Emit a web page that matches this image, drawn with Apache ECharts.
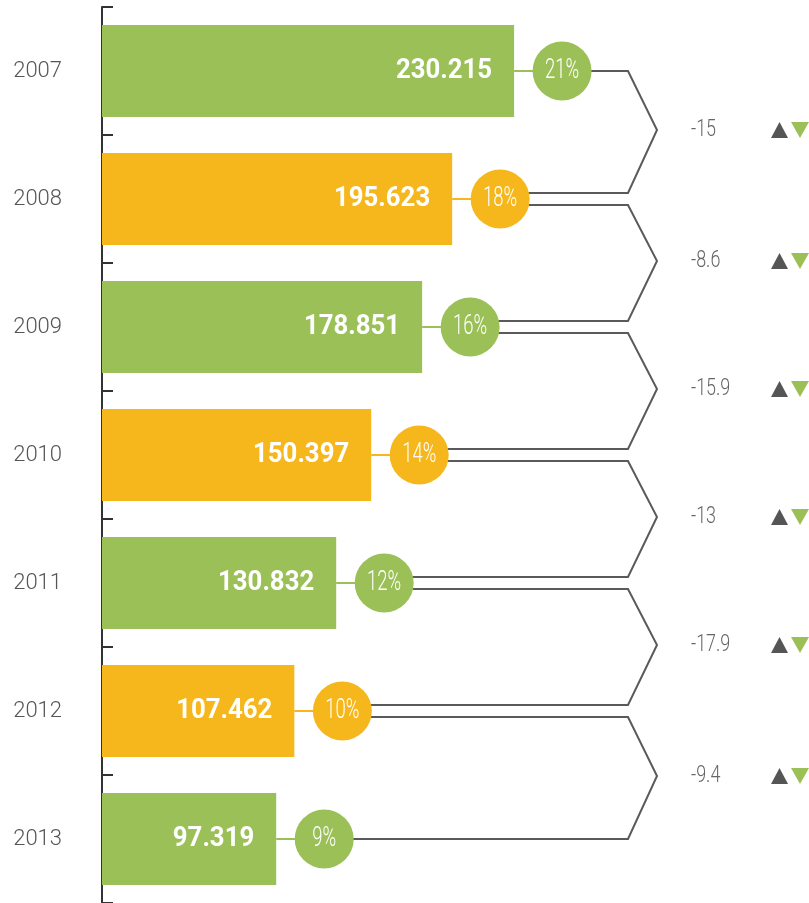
<!DOCTYPE html>
<html>
<head>
<meta charset="utf-8">
<script src="https://cdn.jsdelivr.net/npm/echarts@6/dist/echarts.min.js"></script>
<style>
  html, body { margin: 0; padding: 0; background: #fff; }
  #main { width: 809px; height: 903px; }
</style>
</head>
<body>
<div id="main"></div>
<script>
const years = ['2007', '2008', '2009', '2010', '2011', '2012', '2013']
const values = [230.215, 195.623, 178.851, 150.397, 130.832, 107.462, 97.319]
const shares = ['21%', '18%', '16%', '14%', '12%', '10%', '9%']
const changes = ['-15', '-8.6', '-15.9', '-13', '-17.9', '-9.4']
const colors = ['#9BC057', '#F6B71C']

const lineColor = '#5a5a5a'
const circleOffset = 48
const radius = 29.5
const gap = 6

const myChart = echarts.init(document.getElementById('main'))

// y of the bracket line leaving a row (below) or entering it (above)
function rowLineY(i, cy, below) {
  if (i === 0 || i === years.length - 1) return cy
  return below ? cy + gap : cy - gap
}

const option = {
  animation: false,
  grid: { left: 102, right: 170, top: 7, bottom: -1 },
  xAxis: { type: 'value', min: 0, max: 300, show: false },
  yAxis: {
    type: 'category',
    inverse: true,
    data: years,
    axisLine: { show: true, lineStyle: { color: '#333', width: 2 } },
    axisTick: { show: true, inside: true, length: 11, lineStyle: { color: '#333', width: 2 } },
    axisLabel: {
      color: '#555',
      fontSize: 22,
      fontWeight: 300,
      fontFamily: 'Roboto, sans-serif',
      margin: 40,
    },
  },
  series: [
    {
      type: 'bar',
      barWidth: 92,
      data: values.map((v, i) => ({ value: v, itemStyle: { color: colors[i % 2] } })),
      z: 2,
    },
    {
      // brackets between rows with the change labels
      type: 'custom',
      z: 1,
      data: changes.map((c, i) => [i, c]),
      renderItem: function (params, api) {
        const i = api.value(0)
        const right = params.coordSys.x + params.coordSys.width
        const bx = right - 11
        const apex = right + 18
        const p1 = api.coord([values[i], i])
        const p2 = api.coord([values[i + 1], i + 1])
        const y1 = rowLineY(i, p1[1], true)
        const y2 = rowLineY(i + 1, p2[1], false)
        const mid = (y1 + y2) / 2 - 2
        const tx = right + 132
        return {
          type: 'group',
          children: [
            {
              type: 'polyline',
              shape: { points: [[p1[0] + circleOffset, y1], [bx, y1], [apex, mid], [bx, y2], [p2[0] + circleOffset, y2]] },
              style: { stroke: lineColor, lineWidth: 2, fill: null },
            },
            {
              type: 'text',
              x: right + 52,
              y: mid,
              scaleX: 0.78,
              style: {
                text: changes[i],
                fill: '#666',
                font: '300 23px Roboto, sans-serif',
                align: 'left',
                verticalAlign: 'middle',
              },
            },
            {
              type: 'polygon',
              shape: { points: [[tx, mid + 8], [tx + 8.5, mid - 8], [tx + 17, mid + 8]] },
              style: { fill: '#555' },
            },
            {
              type: 'polygon',
              shape: { points: [[tx + 20, mid - 8], [tx + 38, mid - 8], [tx + 29, mid + 8]] },
              style: { fill: colors[0] },
            },
          ],
        }
      },
    },
    {
      // connector, circle, share and value label for each bar
      type: 'custom',
      z: 3,
      data: values.map((v, i) => [v, i]),
      renderItem: function (params, api) {
        const i = api.value(1)
        const end = api.coord([api.value(0), i])
        const cx = end[0] + circleOffset
        const cy = end[1]
        const color = colors[i % 2]
        return {
          type: 'group',
          children: [
            {
              type: 'line',
              shape: { x1: end[0], y1: cy, x2: cx, y2: cy },
              style: { stroke: color, lineWidth: 2 },
            },
            {
              type: 'circle',
              shape: { cx: cx, cy: cy, r: radius },
              style: { fill: color },
            },
            {
              type: 'text',
              x: cx,
              y: cy,
              scaleX: 0.66,
              style: {
                text: shares[i],
                fill: '#fff',
                font: '300 28px Roboto, sans-serif',
                align: 'center',
                verticalAlign: 'middle',
              },
            },
            {
              type: 'text',
              x: end[0] - 22,
              y: cy,
              scaleX: 0.92,
              style: {
                text: values[i].toFixed(3),
                fill: '#fff',
                font: 'bold 28px Roboto, sans-serif',
                align: 'right',
                verticalAlign: 'middle',
              },
            },
          ],
        }
      },
    },
  ],
}

myChart.setOption(option)
</script>
</body>
</html>
